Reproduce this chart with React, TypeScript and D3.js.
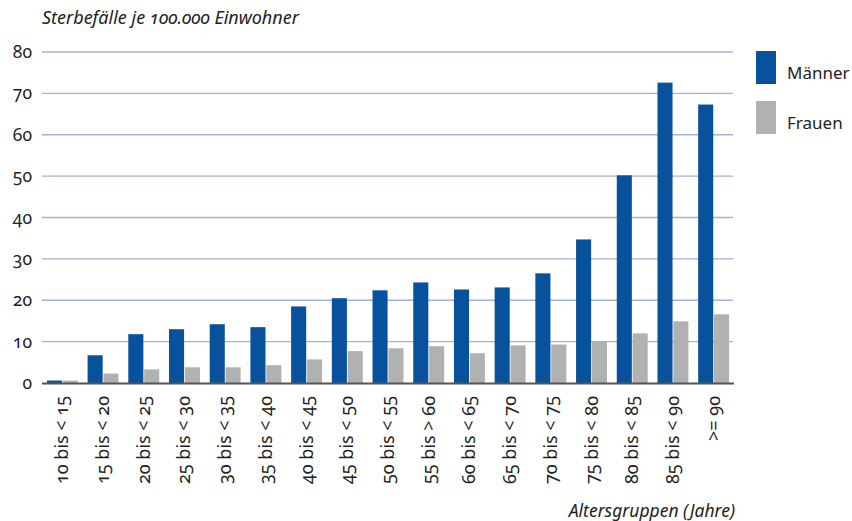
import React, { useEffect, useRef } from 'react';
import * as d3 from 'd3';

const ageGroups = [
    '10 bis < 15', '15 bis < 20', '20 bis < 25', '25 bis < 30', '30 bis < 35',
    '35 bis < 40', '40 bis < 45', '45 bis < 50', '50 bis < 55', '55 bis > 60',
    '60 bis < 65', '65 bis < 70', '70 bis < 75', '75 bis < 80', '80 bis < 85',
    '85 bis < 90', '>= 90',
];
const maennerValues = [0.6, 6.7, 11.8, 13.0, 14.2, 13.5, 18.5, 20.5, 22.4, 24.3, 22.6, 23.1, 26.5, 34.7, 50.2, 72.6, 67.3];
const frauenValues = [0.6, 2.3, 3.3, 3.8, 3.8, 4.3, 5.7, 7.7, 8.4, 8.9, 7.2, 9.1, 9.3, 10.1, 12.0, 14.9, 16.6];
const seriesNames = ['Männer', 'Frauen'];
const yTicks = [0, 10, 20, 30, 40, 50, 60, 70, 80];

const WIDTH = 852;
const HEIGHT = 521;
const FONT = '"Noto Sans", "Open Sans", sans-serif';

const App = () => {
    const svgRef = useRef(null);

    useEffect(() => {
        const svg = d3.select(svgRef.current);
        svg.selectAll('*').remove();

        const marginLeft = 42;
        const plotRight = 734;
        const y0 = 383;
        const yTop = 52;

        const colors = d3.scaleOrdinal().domain(seriesNames).range(['#08519c', '#b0b1b1']);

        const x = d3.scaleBand()
            .domain(ageGroups)
            .range([marginLeft, plotRight])
            .paddingInner(0.24)
            .paddingOuter(0.12);

        const x1 = d3.scaleBand()
            .domain(seriesNames)
            .range([0, x.bandwidth()])
            .paddingInner(0.05);

        const y = d3.scaleLinear().domain([0, 80]).range([y0, yTop]);

        // gridlines
        svg.append('g')
            .selectAll('line')
            .data(yTicks.filter(d => d > 0))
            .join('line')
            .attr('x1', marginLeft)
            .attr('x2', plotRight - 1)
            .attr('y1', d => y(d))
            .attr('y2', d => y(d))
            .attr('stroke', '#a2b0e2')
            .attr('stroke-width', 1.3);

        // y labels
        svg.append('g')
            .selectAll('text')
            .data(yTicks)
            .join('text')
            .attr('x', 32)
            .attr('y', d => y(d) + 6)
            .attr('text-anchor', 'end')
            .style('font-family', FONT)
            .style('font-size', '17.5px')
            .style('font-variant-numeric', 'oldstyle-nums')
            .style('fill', '#222')
            .text(d => d);

        // bars
        const data = ageGroups.map((g, i) => ({ group: g, values: [maennerValues[i], frauenValues[i]] }));
        svg.append('g')
            .selectAll('g')
            .data(data)
            .join('g')
            .attr('transform', d => `translate(${x(d.group)},0)`)
            .selectAll('rect')
            .data(d => seriesNames.map((s, i) => ({ series: s, value: d.values[i] })))
            .join('rect')
            .attr('x', d => x1(d.series))
            .attr('width', x1.bandwidth())
            .attr('y', d => y(d.value))
            .attr('height', d => y0 - y(d.value))
            .attr('fill', d => colors(d.series));

        // baseline
        svg.append('line')
            .attr('x1', marginLeft)
            .attr('x2', plotRight)
            .attr('y1', y0 + 0.5)
            .attr('y2', y0 + 0.5)
            .attr('stroke', '#555')
            .attr('stroke-width', 2);

        // x labels
        svg.append('g')
            .selectAll('text')
            .data(ageGroups)
            .join('text')
            .attr('transform', d => `translate(${x(d) + x.bandwidth() / 2 + 6},396) rotate(-90)`)
            .attr('text-anchor', 'end')
            .style('font-family', FONT)
            .style('font-size', '18px')
            .style('font-variant-numeric', 'oldstyle-nums')
            .style('fill', '#222')
            .text(d => d);

        // titles
        svg.append('text')
            .attr('x', 42)
            .attr('y', 24)
            .style('font-family', FONT)
            .style('font-size', '18px')
            .style('font-style', 'italic')
            .style('font-variant-numeric', 'oldstyle-nums')
            .style('fill', '#222')
            .text('Sterbefälle je 100.000 Einwohner');

        svg.append('text')
            .attr('x', 735)
            .attr('y', 517)
            .attr('text-anchor', 'end')
            .style('font-family', FONT)
            .style('font-size', '17.5px')
            .style('font-style', 'italic')
            .style('fill', '#222')
            .text('Altersgruppen (Jahre)');

        // legend
        const legend = svg.append('g')
            .selectAll('g')
            .data(seriesNames)
            .join('g')
            .attr('transform', (d, i) => `translate(756,${51 + i * 50})`);

        legend.append('rect')
            .attr('width', 20)
            .attr('height', 33)
            .attr('fill', d => colors(d));

        legend.append('text')
            .attr('x', 31)
            .attr('y', 28)
            .style('font-family', FONT)
            .style('font-size', '17px')
            .style('fill', '#222')
            .text(d => d);
    }, []);

    return (
        <div style={{ position: 'absolute', left: 0, top: 0, background: '#fff' }}>
            <svg ref={svgRef} width={WIDTH} height={HEIGHT} style={{ display: 'block' }} />
        </div>
    );
};

export default App;
